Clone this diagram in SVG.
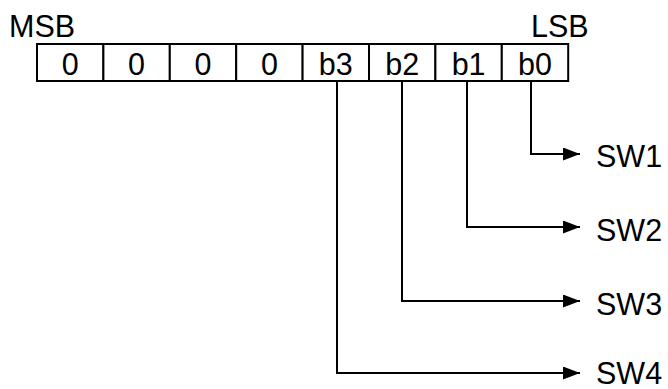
<svg xmlns="http://www.w3.org/2000/svg" width="668" height="389" viewBox="0 0 668 389">
<defs>
<style>
text{font-family:"Liberation Sans",Arial,sans-serif;font-size:30.5px;fill:#000}
.c{text-anchor:middle}
.box{fill:#fff;stroke:#000;stroke-width:2}
.ln{fill:none;stroke:#000;stroke-width:2}
</style>
<marker id="ah" markerWidth="17" markerHeight="13" refX="17" refY="6.5" orient="auto" markerUnits="userSpaceOnUse">
<path d="M0,0 L17,6.5 L0,13 Z" fill="#000"/>
</marker>
</defs>
<rect width="668" height="389" fill="#fff"/>
<g id="labels">
<text x="9" y="37">MSB</text>
<text x="531" y="37">LSB</text>
</g>
<g id="register">
<g id="cell7"><rect class="box" x="37" y="44" width="66.4" height="37"/><text class="c" x="70.2" y="75">0</text></g>
<g id="cell6"><rect class="box" x="103.4" y="44" width="66.4" height="37"/><text class="c" x="136.6" y="75">0</text></g>
<g id="cell5"><rect class="box" x="169.8" y="44" width="66.4" height="37"/><text class="c" x="203" y="75">0</text></g>
<g id="cell4"><rect class="box" x="236.2" y="44" width="66.4" height="37"/><text class="c" x="269.4" y="75">0</text></g>
<g id="cell3"><rect class="box" x="302.6" y="44" width="66.4" height="37"/><text class="c" x="335.8" y="75">b3</text></g>
<g id="cell2"><rect class="box" x="369" y="44" width="66.4" height="37"/><text class="c" x="402.2" y="75">b2</text></g>
<g id="cell1"><rect class="box" x="435.4" y="44" width="66.4" height="37"/><text class="c" x="468.6" y="75">b1</text></g>
<g id="cell0"><rect class="box" x="501.8" y="44" width="66.4" height="37"/><text class="c" x="535" y="75">b0</text></g>
</g>
<g id="connectors">
<path class="ln" d="M531,81 V154 H580" marker-end="url(#ah)"/>
<path class="ln" d="M467,81 V227 H580" marker-end="url(#ah)"/>
<path class="ln" d="M402,81 V301 H580" marker-end="url(#ah)"/>
<path class="ln" d="M337,81 V373 H580" marker-end="url(#ah)"/>
</g>
<g id="sw1"><text x="596" y="167">SW1</text></g>
<g id="sw2"><text x="596" y="241">SW2</text></g>
<g id="sw3"><text x="596" y="315">SW3</text></g>
<g id="sw4"><text x="596" y="384">SW4</text></g>
</svg>
